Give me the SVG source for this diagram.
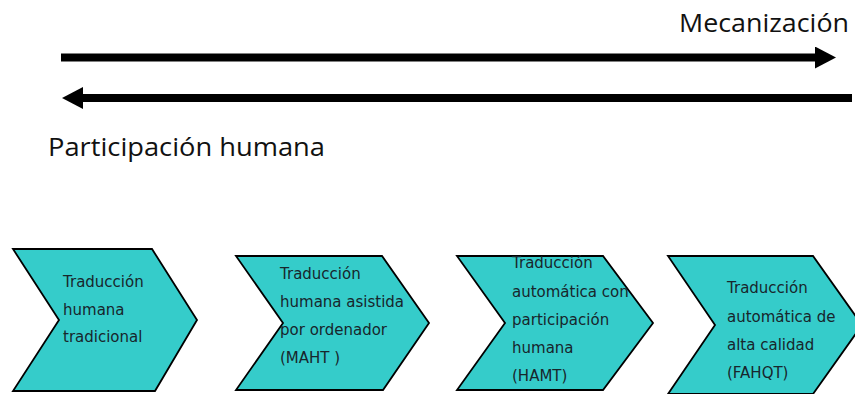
<svg xmlns="http://www.w3.org/2000/svg" width="855" height="394" viewBox="0 0 855 394">
<defs>
<style>
.lbl{font-family:"Open Sans","DejaVu Sans",sans-serif;font-size:26px;fill:#111}
.chev{fill:#35CCCA;stroke:#000;stroke-width:1.8;stroke-linejoin:miter}
.t{font-family:"DejaVu Sans",Verdana,sans-serif;font-size:15px;fill:#18262c}
.ln{stroke:#000;stroke-width:8;fill:none}
</style>
<marker id="ah" markerUnits="userSpaceOnUse" markerWidth="22" markerHeight="22" refX="0" refY="11" orient="auto">
<path d="M0,0 L21,11 L0,22 Z" fill="#000"/>
</marker>
</defs>
<rect width="855" height="394" fill="#fff"/>
<g id="connectors">
<line class="ln" x1="61" y1="57.5" x2="815" y2="57.5" marker-end="url(#ah)"/>
<line class="ln" x1="852" y1="98" x2="83" y2="98" marker-end="url(#ah)"/>
</g>
<text id="mecanizacion" class="lbl" x="679" y="32" textLength="170" lengthAdjust="spacingAndGlyphs">Mecanización</text>
<text id="participacion" class="lbl" x="48" y="156" textLength="277" lengthAdjust="spacingAndGlyphs">Participación humana</text>
<g id="node1">
<polygon class="chev" points="13,249 152,249 197,320 155,391 13,391 59,320"/>
<text class="t" x="63" y="287">Traducción</text>
<text class="t" x="63" y="315">humana</text>
<text class="t" x="63" y="342">tradicional</text>
</g>
<g id="node2">
<polygon class="chev" points="236,256 382,256 429,323 383,390 236,390 283,323"/>
<text class="t" x="280" y="279">Traducción</text>
<text class="t" x="280" y="307">humana asistida</text>
<text class="t" x="280" y="335">por ordenador</text>
<text class="t" x="280" y="363">(MAHT )</text>
</g>
<g id="node3">
<polygon class="chev" points="457,256 603,256 653,323 603,390 457,390 505,323"/>
<text class="t" x="512" y="268">Traducción</text>
<text class="t" x="512" y="297">automática con</text>
<text class="t" x="512" y="325">participación</text>
<text class="t" x="512" y="353">humana</text>
<text class="t" x="512" y="381">(HAMT)</text>
</g>
<g id="node4">
<polygon class="chev" points="668,256 813,256 862,325 813,394 668,394 715,325"/>
<text class="t" x="727" y="293">Traducción</text>
<text class="t" x="727" y="322">automática de</text>
<text class="t" x="727" y="350">alta calidad</text>
<text class="t" x="727" y="378">(FAHQT)</text>
</g>
</svg>
